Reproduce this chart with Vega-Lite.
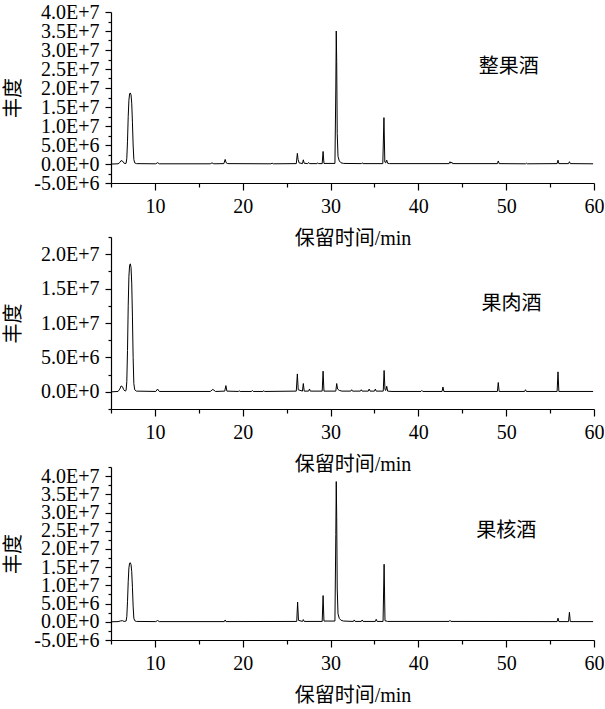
{
  "$schema": "https://vega.github.io/schema/vega-lite/v6.json",
  "padding": {"left": 2, "top": 2, "right": 0, "bottom": 0},
  "background": "white",
  "datasets": {
    "p1": [
      {"t":5.1,"v":0},{"t":5.8,"v":5e4},{"t":6.0,"v":4e5},{"t":6.15,"v":9e5},{"t":6.3,"v":8e5},{"t":6.45,"v":3e5},{"t":6.6,"v":1e5},{"t":6.72,"v":2e5},{"t":6.8,"v":1.5e6},{"t":6.88,"v":6e6},{"t":6.96,"v":1.25e7},{"t":7.04,"v":1.68e7},{"t":7.12,"v":1.85e7},{"t":7.2,"v":1.87e7},{"t":7.28,"v":1.82e7},{"t":7.36,"v":1.6e7},{"t":7.44,"v":1.1e7},{"t":7.52,"v":5e6},{"t":7.6,"v":1.2e6},{"t":7.7,"v":3e5},{"t":7.9,"v":1e5},
      {"t":10.1,"v":5e4},{"t":10.3,"v":3.5e5},{"t":10.5,"v":5e4},{"t":16.3,"v":5e4},{"t":16.5,"v":3e5},{"t":16.7,"v":5e4},{"t":17.85,"v":1e5},{"t":18.0,"v":1.2e6},{"t":18.12,"v":3e5},{"t":18.3,"v":1e5},{"t":23.2,"v":5e4},{"t":23.35,"v":2e5},{"t":23.5,"v":5e4},
      {"t":26.1,"v":1e5},{"t":26.22,"v":2.8e6},{"t":26.3,"v":1.2e6},{"t":26.42,"v":3e5},{"t":26.8,"v":1e5},{"t":26.9,"v":1.1e6},{"t":27.0,"v":2e5},{"t":27.4,"v":1e5},{"t":27.5,"v":4e5},{"t":27.6,"v":1e5},{"t":28.45,"v":1e5},{"t":28.55,"v":3e5},{"t":28.65,"v":1e5},{"t":29.05,"v":1e5},{"t":29.15,"v":3.3e6},{"t":29.25,"v":1.5e5},
      {"t":30.5,"v":1.5e5},{"t":30.6,"v":2e7},{"t":30.65,"v":3.5e7},{"t":30.7,"v":2.7e7},{"t":30.76,"v":8e6},{"t":30.85,"v":2e6},{"t":31.0,"v":8e5},{"t":31.2,"v":3e5},{"t":31.5,"v":1.5e5},{"t":33.5,"v":1e5},{"t":33.6,"v":3e5},{"t":33.7,"v":1e5},
      {"t":35.95,"v":1e5},{"t":36.08,"v":1.22e7},{"t":36.18,"v":5e5},{"t":36.28,"v":3e5},{"t":36.4,"v":1e6},{"t":36.5,"v":2e5},{"t":36.7,"v":1e5},{"t":43.5,"v":1e5},{"t":43.6,"v":6e5},{"t":43.7,"v":2e5},{"t":43.8,"v":5e5},{"t":43.9,"v":1e5},
      {"t":49.0,"v":1e5},{"t":49.1,"v":8e5},{"t":49.2,"v":1e5},{"t":52.2,"v":5e4},{"t":52.3,"v":2e5},{"t":52.4,"v":5e4},{"t":55.8,"v":1e5},{"t":55.9,"v":1e6},{"t":56.0,"v":1e5},{"t":57.1,"v":1e5},{"t":57.2,"v":6e5},{"t":57.3,"v":1e5},{"t":59.9,"v":5e4}
    ],
    "p2": [
      {"t":5.1,"v":0},{"t":5.8,"v":5e4},{"t":6.0,"v":4e5},{"t":6.15,"v":8.5e5},{"t":6.3,"v":7.5e5},{"t":6.45,"v":3e5},{"t":6.6,"v":1e5},{"t":6.72,"v":2e5},{"t":6.8,"v":1.5e6},{"t":6.88,"v":6e6},{"t":6.96,"v":1.25e7},{"t":7.04,"v":1.68e7},{"t":7.12,"v":1.84e7},{"t":7.2,"v":1.86e7},{"t":7.28,"v":1.81e7},{"t":7.36,"v":1.58e7},{"t":7.44,"v":1.1e7},{"t":7.52,"v":5e6},{"t":7.6,"v":1.2e6},{"t":7.7,"v":3e5},{"t":7.9,"v":1e5},
      {"t":10.1,"v":5e4},{"t":10.3,"v":4e5},{"t":10.5,"v":5e4},{"t":16.3,"v":5e4},{"t":16.6,"v":3.5e5},{"t":16.9,"v":5e4},{"t":17.95,"v":1e5},{"t":18.08,"v":9e5},{"t":18.2,"v":1e5},{"t":19.5,"v":5e4},{"t":19.6,"v":1.5e5},{"t":19.7,"v":5e4},{"t":21.0,"v":5e4},{"t":21.1,"v":2e5},{"t":21.2,"v":5e4},{"t":22.3,"v":5e4},{"t":22.4,"v":1.5e5},{"t":22.5,"v":5e4},
      {"t":26.1,"v":1e5},{"t":26.22,"v":2.6e6},{"t":26.32,"v":3e5},{"t":26.8,"v":1e5},{"t":26.9,"v":1.2e6},{"t":27.0,"v":1e5},{"t":27.5,"v":1e5},{"t":27.6,"v":4e5},{"t":27.7,"v":1e5},{"t":29.05,"v":1e5},{"t":29.15,"v":3e6},{"t":29.25,"v":1e5},
      {"t":30.6,"v":1e5},{"t":30.7,"v":1.2e6},{"t":30.8,"v":4e5},{"t":31.0,"v":2e5},{"t":31.3,"v":1e5},{"t":32.3,"v":1e5},{"t":32.4,"v":3e5},{"t":32.5,"v":1e5},{"t":33.4,"v":1e5},{"t":33.5,"v":3e5},{"t":33.6,"v":1e5},{"t":34.3,"v":1e5},{"t":34.4,"v":4e5},{"t":34.5,"v":1e5},{"t":35.0,"v":1e5},{"t":35.1,"v":4e5},{"t":35.2,"v":1e5},
      {"t":36.0,"v":1e5},{"t":36.1,"v":3.1e6},{"t":36.2,"v":3e5},{"t":36.3,"v":2e5},{"t":36.4,"v":8e5},{"t":36.5,"v":1e5},{"t":37.0,"v":5e4},{"t":40.3,"v":5e4},{"t":40.4,"v":2e5},{"t":40.5,"v":5e4},{"t":42.7,"v":5e4},{"t":42.8,"v":7e5},{"t":42.9,"v":5e4},
      {"t":49.0,"v":5e4},{"t":49.1,"v":1.35e6},{"t":49.2,"v":5e4},{"t":52.1,"v":5e4},{"t":52.2,"v":3e5},{"t":52.3,"v":5e4},{"t":55.8,"v":5e4},{"t":55.9,"v":2.9e6},{"t":56.0,"v":5e4},{"t":59.9,"v":5e4}
    ],
    "p3": [
      {"t":5.1,"v":0},{"t":5.8,"v":5e4},{"t":6.1,"v":2.5e5},{"t":6.3,"v":3e5},{"t":6.5,"v":1e5},{"t":6.72,"v":2e5},{"t":6.8,"v":1.4e6},{"t":6.88,"v":5.5e6},{"t":6.96,"v":1.1e7},{"t":7.04,"v":1.48e7},{"t":7.12,"v":1.61e7},{"t":7.2,"v":1.62e7},{"t":7.28,"v":1.57e7},{"t":7.36,"v":1.38e7},{"t":7.44,"v":9.5e6},{"t":7.52,"v":4.3e6},{"t":7.6,"v":1e6},{"t":7.7,"v":3e5},{"t":7.9,"v":1e5},
      {"t":10.1,"v":5e4},{"t":10.3,"v":3.5e5},{"t":10.5,"v":5e4},{"t":17.9,"v":5e4},{"t":18.0,"v":5e5},{"t":18.1,"v":5e4},
      {"t":26.15,"v":1e5},{"t":26.25,"v":5.4e6},{"t":26.35,"v":4e5},{"t":26.8,"v":1e5},{"t":26.9,"v":6e5},{"t":27.0,"v":1e5},{"t":29.05,"v":1e5},{"t":29.15,"v":7.2e6},{"t":29.25,"v":2e5},
      {"t":30.5,"v":2e5},{"t":30.6,"v":2.4e7},{"t":30.65,"v":3.85e7},{"t":30.7,"v":2.9e7},{"t":30.76,"v":9e6},{"t":30.85,"v":2.2e6},{"t":31.0,"v":9e5},{"t":31.2,"v":4e5},{"t":31.5,"v":2e5},
      {"t":32.6,"v":1e5},{"t":32.7,"v":5e5},{"t":32.8,"v":1e5},{"t":33.5,"v":1e5},{"t":33.6,"v":5e5},{"t":33.7,"v":1e5},{"t":35.1,"v":1e5},{"t":35.2,"v":7e5},{"t":35.3,"v":1e5},
      {"t":35.98,"v":1e5},{"t":36.1,"v":1.58e7},{"t":36.2,"v":3e5},{"t":36.5,"v":1e5},{"t":43.5,"v":1e5},{"t":43.6,"v":4e5},{"t":43.7,"v":1e5},
      {"t":55.8,"v":5e4},{"t":55.9,"v":1e6},{"t":56.0,"v":5e4},{"t":57.1,"v":5e4},{"t":57.2,"v":2.6e6},{"t":57.3,"v":5e4},{"t":59.9,"v":5e4}
    ]
  },
  "config": {
    "view": {"stroke": null},
    "axis": {
      "domainColor": "black", "tickColor": "black", "labelColor": "black", "titleColor": "black",
      "labelFont": "Liberation Serif", "titleFont": "Liberation Serif, Noto Sans CJK SC",
      "labelFontSize": 20, "titleFontSize": 20, "titleFontWeight": "normal",
      "grid": false, "domainWidth": 1.2, "tickWidth": 1.2, "tickCount": 100,
      "labelFlush": false, "labelOverlap": false, "labelBound": false
    }
  },
  "bounds": "flush",
  "spacing": 54,
  "vconcat": [
    {
      "width": 483, "height": 171,
      "layer": [
        {
          "data": {"name": "p1"},
          "mark": {"type": "line", "color": "black", "strokeWidth": 1},
          "encoding": {
            "x": {"field": "t", "type": "quantitative", "scale": {"domain": [5, 60], "nice": false, "zero": false},
              "axis": {"values": [5,10,15,20,25,30,35,40,45,50,55,60], "tickCount": 100, "format": "d", "labelExpr": "datum.value % 10 === 0 ? datum.label : ''",
                "tickSize": {"condition": {"test": "datum.value % 10 === 0", "value": 7}, "value": 4},
                "labelOverlap": false, "labelPadding": 6, "title": "保留时间/min", "titlePadding": 12}},
            "y": {"field": "v", "type": "quantitative", "scale": {"domain": [-5000000, 40000000], "nice": false, "zero": false},
              "axis": {"values": [-5000000,-2500000,0,2500000,5000000,7500000,10000000,12500000,15000000,17500000,20000000,22500000,25000000,27500000,30000000,32500000,35000000,37500000,40000000], "tickCount": 100,
                "labelExpr": "datum.value % 5000000 === 0 ? (datum.value < 0 ? '-' + upper(format(-datum.value, '.1e')) : upper(format(datum.value, '.1e'))) : ''",
                "tickSize": {"condition": {"test": "datum.value % 5000000 === 0", "value": 6}, "value": 3},
                "labelOverlap": false, "labelPadding": 6, "title": "丰度", "titleX": -98, "titleBaseline": "middle"}}
          }
        },
        {
          "data": {"values": [{"name": "整果酒"}]},
          "mark": {"type": "text", "font": "Noto Sans CJK SC", "fontSize": 20, "color": "black"},
          "encoding": {
            "x": {"datum": 50.3, "type": "quantitative"},
            "y": {"datum": 25500000, "type": "quantitative"},
            "text": {"field": "name"}
          }
        }
      ]
    },
    {
      "bounds": "flush",
      "spacing": 58,
      "vconcat": [
        {
          "width": 483, "height": 172,
          "layer": [
            {
              "data": {"name": "p2"},
              "mark": {"type": "line", "color": "black", "strokeWidth": 1},
              "encoding": {
                "x": {"field": "t", "type": "quantitative", "scale": {"domain": [5, 60], "nice": false, "zero": false},
                  "axis": {"values": [5,10,15,20,25,30,35,40,45,50,55,60], "tickCount": 100, "format": "d", "labelExpr": "datum.value % 10 === 0 ? datum.label : ''",
                    "tickSize": {"condition": {"test": "datum.value % 10 === 0", "value": 7}, "value": 4},
                    "labelOverlap": false, "labelPadding": 6, "title": "保留时间/min", "titlePadding": 12}},
                "y": {"field": "v", "type": "quantitative", "scale": {"domain": [-2500000, 22500000], "nice": false, "zero": false},
                  "axis": {"values": [-2500000,0,2500000,5000000,7500000,10000000,12500000,15000000,17500000,20000000,22500000], "tickCount": 100,
                    "labelExpr": "datum.value % 5000000 === 0 ? (datum.value < 0 ? '-' + upper(format(-datum.value, '.1e')) : upper(format(datum.value, '.1e'))) : ''",
                    "tickSize": {"condition": {"test": "datum.value % 5000000 === 0", "value": 6}, "value": 3},
                    "labelOverlap": false, "labelPadding": 6, "title": "丰度", "titleX": -98, "titleBaseline": "middle"}}
              }
            },
            {
              "data": {"values": [{"name": "果肉酒"}]},
              "mark": {"type": "text", "font": "Noto Sans CJK SC", "fontSize": 20, "color": "black"},
              "encoding": {
                "x": {"datum": 50.6, "type": "quantitative"},
                "y": {"datum": 12750000, "type": "quantitative"},
                "text": {"field": "name"}
              }
            }
          ]
        },
        {
          "width": 483, "height": 173,
          "layer": [
            {
              "data": {"name": "p3"},
              "mark": {"type": "line", "color": "black", "strokeWidth": 1},
              "encoding": {
                "x": {"field": "t", "type": "quantitative", "scale": {"domain": [5, 60], "nice": false, "zero": false},
                  "axis": {"values": [5,10,15,20,25,30,35,40,45,50,55,60], "tickCount": 100, "format": "d", "labelExpr": "datum.value % 10 === 0 ? datum.label : ''",
                    "tickSize": {"condition": {"test": "datum.value % 10 === 0", "value": 7}, "value": 4},
                    "labelOverlap": false, "labelPadding": 6, "title": "保留时间/min", "titlePadding": 12}},
                "y": {"field": "v", "type": "quantitative", "scale": {"domain": [-5000000, 42500000], "nice": false, "zero": false},
                  "axis": {"values": [-5000000,-2500000,0,2500000,5000000,7500000,10000000,12500000,15000000,17500000,20000000,22500000,25000000,27500000,30000000,32500000,35000000,37500000,40000000,42500000], "tickCount": 100,
                    "labelExpr": "datum.value % 5000000 === 0 ? (datum.value < 0 ? '-' + upper(format(-datum.value, '.1e')) : upper(format(datum.value, '.1e'))) : ''",
                    "tickSize": {"condition": {"test": "datum.value % 5000000 === 0", "value": 6}, "value": 3},
                    "labelOverlap": false, "labelPadding": 6, "title": "丰度", "titleX": -98, "titleBaseline": "middle"}}
              }
            },
            {
              "data": {"values": [{"name": "果核酒"}]},
              "mark": {"type": "text", "font": "Noto Sans CJK SC", "fontSize": 20, "color": "black"},
              "encoding": {
                "x": {"datum": 50.0, "type": "quantitative"},
                "y": {"datum": 25000000, "type": "quantitative"},
                "text": {"field": "name"}
              }
            }
          ]
        }
      ]
    }
  ]
}
